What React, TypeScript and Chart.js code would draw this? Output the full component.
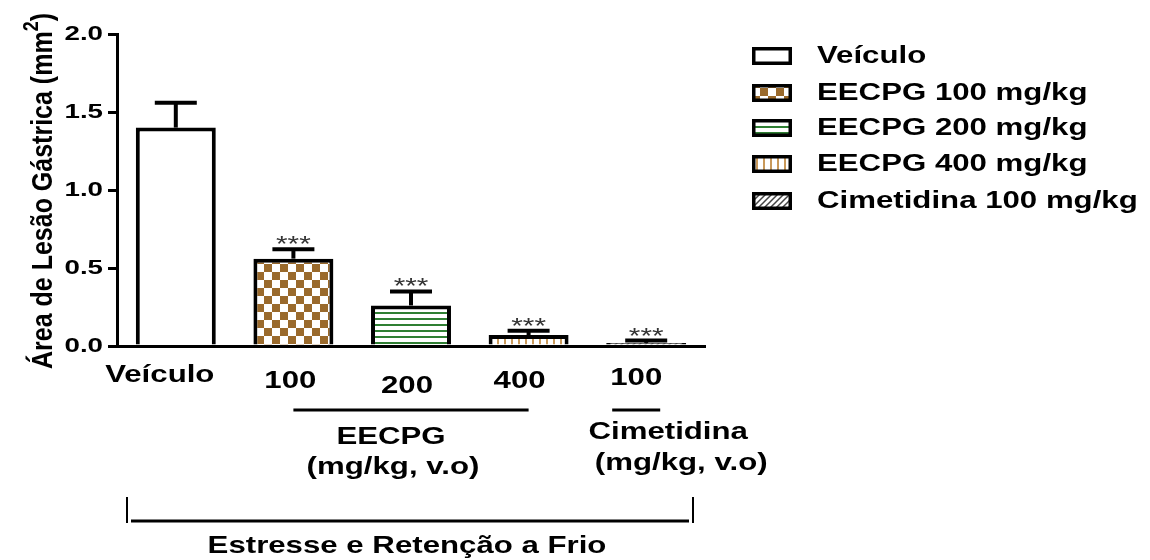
import React, { useEffect, useRef } from "react";
import { Chart, registerables } from "chart.js";

Chart.register(...registerables);

// ---- data ----
const categories = ["Veículo", "EECPG 100 mg/kg", "EECPG 200 mg/kg", "EECPG 400 mg/kg", "Cimetidina 100 mg/kg"];
const tickLabels = ["Veículo", "100", "200", "400", "100"];
const means = [1.4, 0.56, 0.26, 0.07, 0.02];
const errors = [0.16, 0.06, 0.09, 0.027, 0.015];
const significance = ["", "***", "***", "***", "***"];
const yTicks = [0, 0.5, 1, 1.5, 2];
const yTitleMain = "Área de Lesão Gástrica (mm";
const yTitleSup = "2";
const yTitleEnd = ")";
const groupEECPG = ["EECPG", "(mg/kg, v.o)"];
const groupCim = ["Cimetidina", "(mg/kg, v.o)"];
const bottomTitle = "Estresse e Retenção a Frio";

const FONT = 'Arial, "Liberation Sans", sans-serif';
const SX = 1.3;

function drawText(
  ctx: CanvasRenderingContext2D,
  s: string,
  x: number,
  y: number,
  size: number,
  align: "left" | "center" | "right" = "center",
  sx = SX,
  color = "#000",
  weight = "bold"
) {
  ctx.save();
  ctx.font = `${weight} ${size}px ${FONT}`;
  ctx.fillStyle = color;
  ctx.textBaseline = "middle";
  ctx.textAlign = "left";
  const w = ctx.measureText(s).width * sx;
  const left = align === "center" ? x - w / 2 : align === "right" ? x - w : x;
  ctx.translate(left, y);
  ctx.scale(sx, 1);
  ctx.fillText(s, 0, 0);
  ctx.restore();
}

function makePatterns(): (CanvasPattern | string)[] {
  const mk = (w: number, h: number, draw: (c: CanvasRenderingContext2D) => void) => {
    const cv = document.createElement("canvas");
    cv.width = w;
    cv.height = h;
    const c = cv.getContext("2d")!;
    c.fillStyle = "#fff";
    c.fillRect(0, 0, w, h);
    draw(c);
    return c.createPattern(cv, "repeat")!;
  };
  const checker = mk(16, 16, (c) => {
    c.fillStyle = "#9a6a2c";
    c.fillRect(0, 0, 8, 8);
    c.fillRect(8, 8, 8, 8);
  });
  const hstripes = mk(6, 6, (c) => {
    c.fillStyle = "#2f7f33";
    c.fillRect(0, 0, 6, 2);
  });
  const vstripes = mk(7, 7, (c) => {
    c.fillStyle = "#c9995a";
    c.fillRect(0, 0, 2, 7);
  });
  const hatch = mk(6, 6, (c) => {
    c.strokeStyle = "#444";
    c.lineWidth = 1.5;
    c.beginPath();
    c.moveTo(-1, 7);
    c.lineTo(7, -1);
    c.moveTo(-1, 1);
    c.lineTo(1, -1);
    c.moveTo(5, 7);
    c.lineTo(7, 5);
    c.stroke();
  });
  return ["#ffffff", checker, hstripes, vstripes, hatch];
}

export default function App() {
  const ref = useRef<HTMLCanvasElement | null>(null);

  useEffect(() => {
    const canvas = ref.current!;
    const fills = makePatterns();

    const annot = {
      id: "annot",
      afterDatasetsDraw(chart: any) {
        const ctx: CanvasRenderingContext2D = chart.ctx;
        const ys = chart.scales.y;
        const meta = chart.getDatasetMeta(0);
        ctx.save();
        ctx.strokeStyle = "#000";
        ctx.lineCap = "butt";
        meta.data.forEach((bar: any, i: number) => {
          const x = bar.x;
          const top = ys.getPixelForValue(means[i]);
          const cap = ys.getPixelForValue(means[i] + errors[i]);
          ctx.lineWidth = 4;
          ctx.beginPath();
          ctx.moveTo(x, top);
          ctx.lineTo(x, cap);
          ctx.stroke();
          ctx.beginPath();
          ctx.moveTo(x - 21, cap);
          ctx.lineTo(x + 21, cap);
          ctx.stroke();
          if (significance[i]) {
            drawText(ctx, significance[i], x, cap - 4, 22, "center", 1.35, "#333", "normal");
          }
        });
        ctx.restore();
      },
      afterDraw(chart: any) {
        const ctx: CanvasRenderingContext2D = chart.ctx;
        const ys = chart.scales.y;
        const xs = chart.scales.x;
        const area = chart.chartArea;

        // y tick labels
        yTicks.forEach((v) => {
          drawText(ctx, v.toFixed(1), area.left - 14, ys.getPixelForValue(v), 21, "right", 1.32);
        });

        // y title (rotated) with superscript
        ctx.save();
        ctx.translate(44, (area.top + area.bottom) / 2 + 1);
        ctx.rotate(-Math.PI / 2);
        ctx.scale(1, 1.2);
        ctx.font = `bold 25px ${FONT}`;
        ctx.fillStyle = "#000";
        ctx.textBaseline = "middle";
        ctx.textAlign = "left";
        const wMain = ctx.measureText(yTitleMain).width;
        ctx.font = `bold 18px ${FONT}`;
        const wSup = ctx.measureText(yTitleSup).width;
        ctx.font = `bold 25px ${FONT}`;
        const wEnd = ctx.measureText(yTitleEnd).width;
        let px = -(wMain + wSup + wEnd) / 2;
        ctx.fillText(yTitleMain, px, 0);
        px += wMain;
        ctx.font = `bold 18px ${FONT}`;
        ctx.fillText(yTitleSup, px, -10);
        px += wSup;
        ctx.font = `bold 25px ${FONT}`;
        ctx.fillText(yTitleEnd, px, 0);
        ctx.restore();

        // x labels (staggered like the original)
        const dy = [29, 35, 40, 35, 32];
        const dx = [-16, -3, -4, -9, -10];
        tickLabels.forEach((t, i) => {
          drawText(ctx, t, xs.getPixelForValue(i) + dx[i], area.bottom + dy[i], 24);
        });

        // group lines
        const lineY = area.bottom + 64;
        ctx.save();
        ctx.strokeStyle = "#000";
        ctx.lineWidth = 3;
        ctx.beginPath();
        ctx.moveTo(xs.getPixelForValue(1), lineY);
        ctx.lineTo(xs.getPixelForValue(3), lineY);
        const cimX = xs.getPixelForValue(4) - 10;
        ctx.moveTo(cimX - 24, lineY);
        ctx.lineTo(cimX + 24, lineY);
        ctx.stroke();

        // bracket
        const bl = area.left + 10;
        const br = area.right - 12;
        const bTop = area.bottom + 151;
        const bBot = area.bottom + 177;
        ctx.lineWidth = 2;
        ctx.beginPath();
        ctx.moveTo(bl, bTop);
        ctx.lineTo(bl, bBot);
        ctx.moveTo(br, bTop);
        ctx.lineTo(br, bBot);
        ctx.stroke();
        ctx.lineWidth = 3;
        ctx.beginPath();
        ctx.moveTo(bl + 4, bBot - 2);
        ctx.lineTo(br - 4, bBot - 2);
        ctx.stroke();
        ctx.restore();

        const eMid = (xs.getPixelForValue(1) + xs.getPixelForValue(3)) / 2 - 20;
        drawText(ctx, groupEECPG[0], eMid, area.bottom + 91, 24);
        drawText(ctx, groupEECPG[1], eMid + 2, area.bottom + 121, 24);
        drawText(ctx, groupCim[0], cimX + 32, area.bottom + 86, 24);
        drawText(ctx, groupCim[1], cimX + 45, area.bottom + 117, 24);
        drawText(ctx, bottomTitle, (area.left + area.right) / 2 - 4, area.bottom + 200, 24);

        // legend
        const rows = [56, 93, 128, 164, 201];
        categories.forEach((c, i) => {
          ctx.save();
          ctx.fillStyle = fills[i] as any;
          ctx.fillRect(752, rows[i] - 9, 40, 18);
          ctx.strokeStyle = "#000";
          ctx.lineWidth = 3.5;
          ctx.strokeRect(753.75, rows[i] - 7.25, 36.5, 14.5);
          ctx.restore();
          drawText(ctx, c, 817, rows[i], 24, "left", 1.3);
        });
      },
    };

    const chart = new Chart(canvas, {
      type: "bar",
      data: {
        labels: categories,
        datasets: [
          {
            data: means,
            backgroundColor: fills as any,
            borderColor: "#000",
            borderWidth: 4,
            borderSkipped: "start",
            categoryPercentage: 1,
            barPercentage: 0.68,
          },
        ],
      },
      options: {
        responsive: false,
        maintainAspectRatio: false,
        animation: false,
        devicePixelRatio: 1,
        layout: { padding: { left: 0, top: 34, right: 445, bottom: 214 } },
        plugins: { legend: { display: false }, tooltip: { enabled: false } },
        scales: {
          x: {
            grid: { display: false },
            border: { display: true, color: "#000", width: 3 },
            ticks: { display: false },
            afterFit: (s: any) => {
              s.height = 0;
            },
          },
          y: {
            min: 0,
            max: 2,
            ticks: { display: false, stepSize: 0.5 },
            grid: {
              display: true,
              drawOnChartArea: false,
              drawTicks: true,
              tickLength: 9,
              lineWidth: 3,
              color: "#000",
            },
            border: { display: true, color: "#000", width: 3 },
            afterFit: (s: any) => {
              s.width = 117;
            },
          },
        },
      },
      plugins: [annot],
    });
    return () => chart.destroy();
  }, []);

  return (
    <div style={{ position: "absolute", left: 0, top: 0, width: 1150, height: 560, background: "#fff" }}>
      <canvas ref={ref} width={1150} height={560} style={{ width: 1150, height: 560 }} />
    </div>
  );
}
